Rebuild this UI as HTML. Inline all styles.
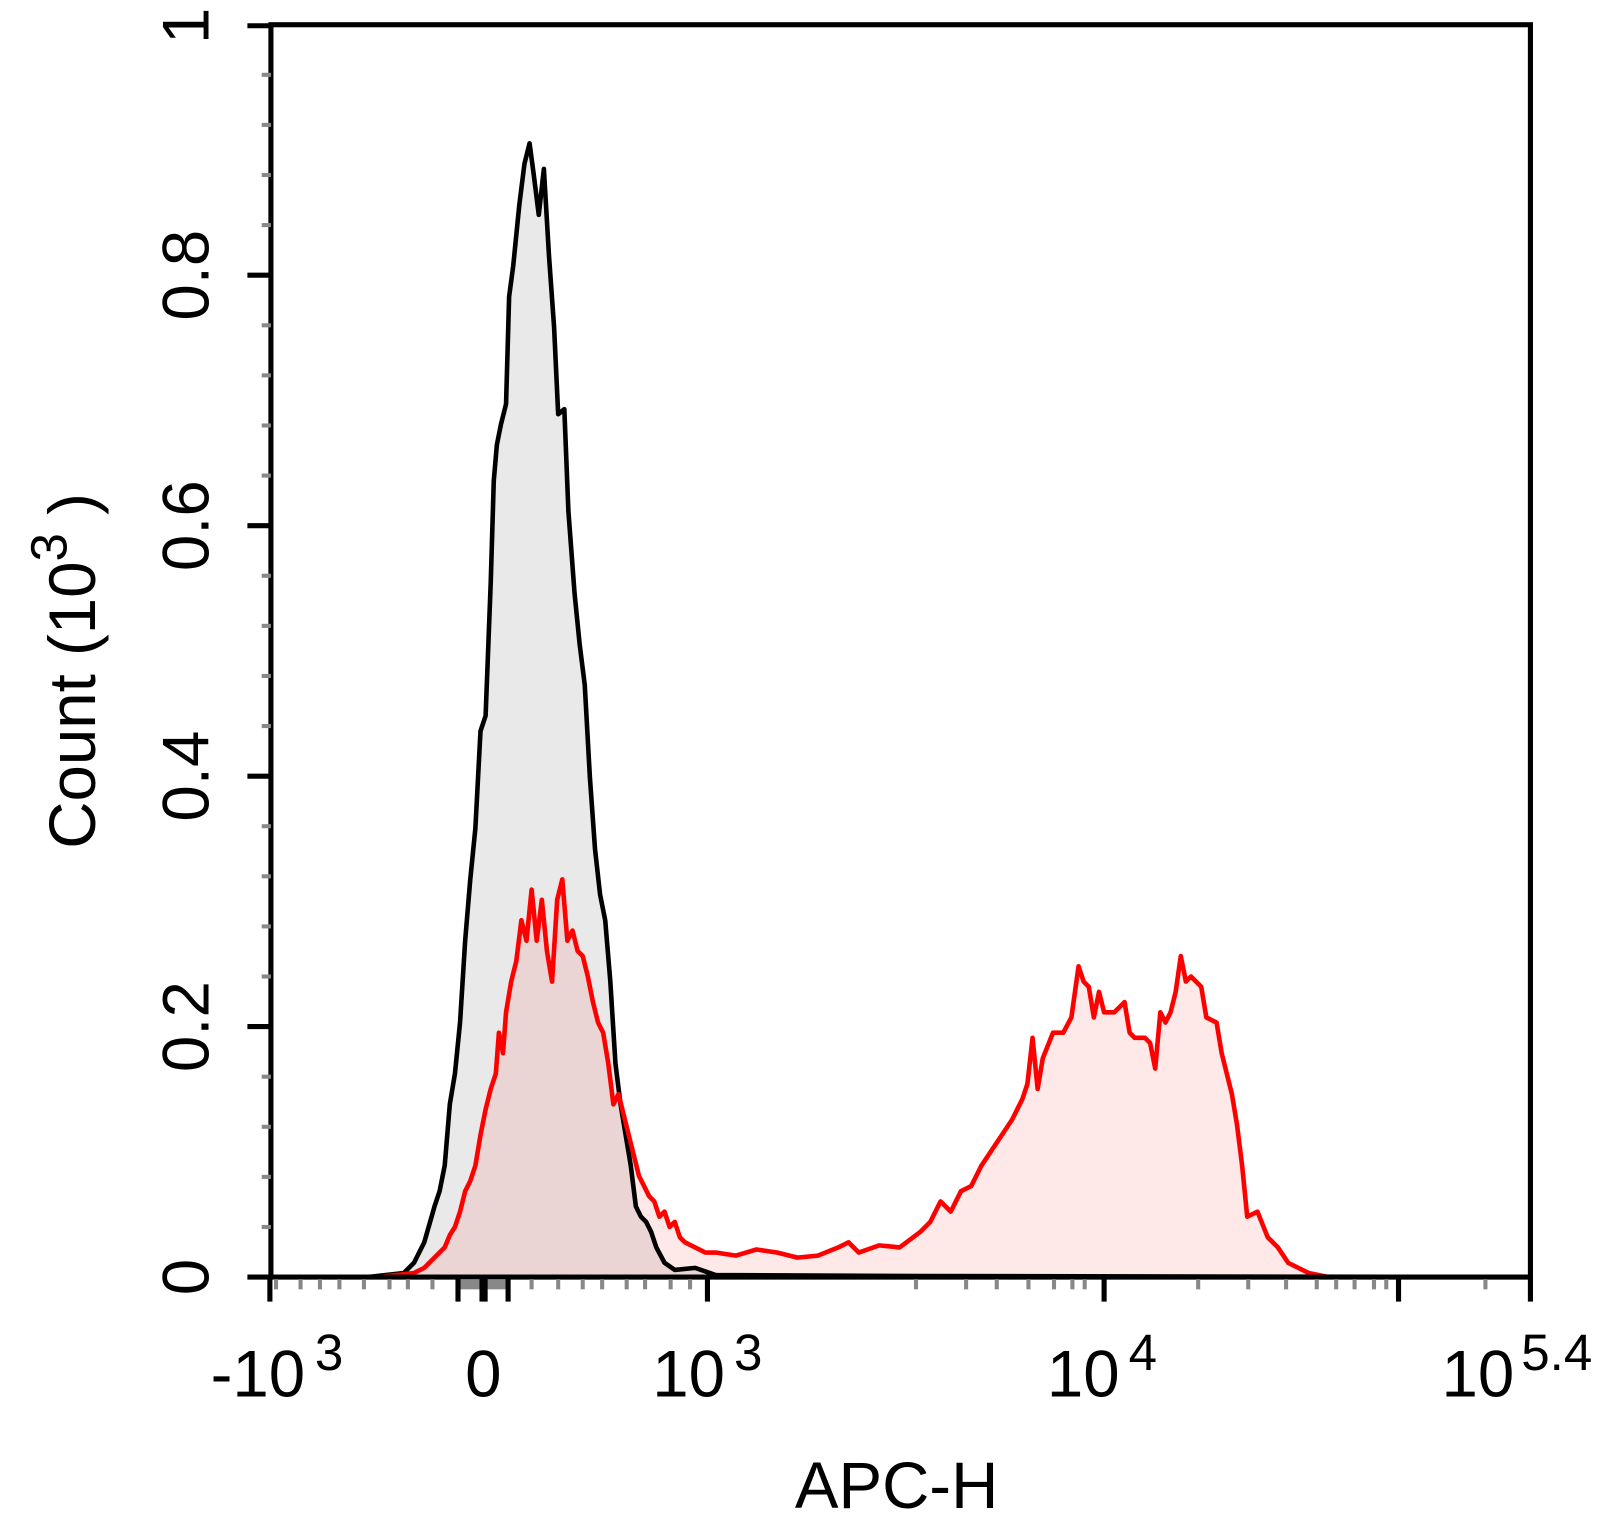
<!DOCTYPE html>
<html><head><meta charset="utf-8"><style>
html,body{margin:0;padding:0;background:#fff;}
svg{display:block;}
text{font-family:"Liberation Sans",Arial,sans-serif;fill:#000;}
</style></head><body>
<svg width="1603" height="1540" viewBox="0 0 1568 1506" xmlns="http://www.w3.org/2000/svg">
<path fill="#e9e9e9" d="M360,1249 L395,1245 405,1235 415,1215 425,1180 430,1165 435,1140 440,1080 445,1050 450,1000 455,920 460,860 465,810 470,715 475,700 480,570 483,470 486,435 490,415 495,395 498,290 502,260 508,200 513,160 518,140 522,170 527,210 532,165 537,250 542,320 546,405 552,400 556,500 562,580 567,630 572,670 577,760 582,830 587,875 592,900 597,960 602,1040 607,1080 612,1110 617,1140 622,1180 627,1190 632,1195 637,1205 642,1220 650,1235 660,1242 680,1240 700,1247 900,1248 1497,1249 Z"/>
<path fill="rgba(240,0,0,0.09)" d="M370,1249 L405,1245 415,1240 425,1230 435,1220 440,1208 445,1200 450,1185 455,1165 460,1155 465,1140 470,1110 475,1085 480,1065 485,1050 488,1010 492,1030 495,990 500,960 505,940 510,900 515,920 520,870 525,920 530,880 535,930 540,960 545,880 550,860 555,920 560,910 565,930 570,935 575,955 580,980 585,1000 590,1010 595,1040 600,1080 605,1070 610,1090 615,1110 620,1130 625,1150 630,1160 635,1170 640,1175 645,1190 650,1185 655,1200 660,1195 665,1210 670,1215 680,1220 690,1225 700,1225 720,1228 740,1222 760,1225 780,1230 800,1228 820,1220 830,1215 840,1225 860,1218 880,1220 900,1205 910,1195 920,1175 930,1185 940,1165 950,1160 960,1140 970,1125 980,1110 990,1095 1000,1075 1005,1060 1010,1015 1015,1065 1020,1035 1030,1010 1040,1010 1048,995 1055,945 1060,960 1065,965 1070,995 1075,970 1080,990 1090,990 1100,980 1105,1010 1110,1015 1120,1015 1125,1020 1130,1045 1135,990 1140,1000 1145,990 1150,970 1155,935 1160,960 1165,955 1175,965 1180,995 1190,1000 1195,1030 1205,1070 1210,1100 1215,1140 1220,1190 1230,1185 1240,1210 1250,1220 1260,1235 1270,1240 1280,1245 1300,1249 Z"/>
<polyline fill="none" stroke="#000" stroke-width="4.5" stroke-linejoin="round" points="360,1249 395,1245 405,1235 415,1215 425,1180 430,1165 435,1140 440,1080 445,1050 450,1000 455,920 460,860 465,810 470,715 475,700 480,570 483,470 486,435 490,415 495,395 498,290 502,260 508,200 513,160 518,140 522,170 527,210 532,165 537,250 542,320 546,405 552,400 556,500 562,580 567,630 572,670 577,760 582,830 587,875 592,900 597,960 602,1040 607,1080 612,1110 617,1140 622,1180 627,1190 632,1195 637,1205 642,1220 650,1235 660,1242 680,1240 700,1247 900,1248 1497,1249"/>
<polyline fill="none" stroke="#f00" stroke-width="4.5" stroke-linejoin="round" points="370,1249 405,1245 415,1240 425,1230 435,1220 440,1208 445,1200 450,1185 455,1165 460,1155 465,1140 470,1110 475,1085 480,1065 485,1050 488,1010 492,1030 495,990 500,960 505,940 510,900 515,920 520,870 525,920 530,880 535,930 540,960 545,880 550,860 555,920 560,910 565,930 570,935 575,955 580,980 585,1000 590,1010 595,1040 600,1080 605,1070 610,1090 615,1110 620,1130 625,1150 630,1160 635,1170 640,1175 645,1190 650,1185 655,1200 660,1195 665,1210 670,1215 680,1220 690,1225 700,1225 720,1228 740,1222 760,1225 780,1230 800,1228 820,1220 830,1215 840,1225 860,1218 880,1220 900,1205 910,1195 920,1175 930,1185 940,1165 950,1160 960,1140 970,1125 980,1110 990,1095 1000,1075 1005,1060 1010,1015 1015,1065 1020,1035 1030,1010 1040,1010 1048,995 1055,945 1060,960 1065,965 1070,995 1075,970 1080,990 1090,990 1100,980 1105,1010 1110,1015 1120,1015 1125,1020 1130,1045 1135,990 1140,1000 1145,990 1150,970 1155,935 1160,960 1165,955 1175,965 1180,995 1190,1000 1195,1030 1205,1070 1210,1100 1215,1140 1220,1190 1230,1185 1240,1210 1250,1220 1260,1235 1270,1240 1280,1245 1300,1249"/>
<rect x="265" y="24" width="1232" height="1225" fill="none" stroke="#000" stroke-width="5"/>
<g stroke="#000" stroke-width="5">
<line x1="242" y1="1249" x2="265" y2="1249"/><line x1="242" y1="1004" x2="265" y2="1004"/><line x1="242" y1="759" x2="265" y2="759"/><line x1="242" y1="514" x2="265" y2="514"/><line x1="242" y1="269" x2="265" y2="269"/><line x1="242" y1="25" x2="265" y2="25"/>
</g>
<g stroke="#888" stroke-width="4">
<line x1="256" y1="1200" x2="265" y2="1200"/><line x1="256" y1="1151" x2="265" y2="1151"/><line x1="256" y1="1102" x2="265" y2="1102"/><line x1="256" y1="1053" x2="265" y2="1053"/>
<line x1="256" y1="955" x2="265" y2="955"/><line x1="256" y1="906" x2="265" y2="906"/><line x1="256" y1="857" x2="265" y2="857"/><line x1="256" y1="808" x2="265" y2="808"/>
<line x1="256" y1="710" x2="265" y2="710"/><line x1="256" y1="661" x2="265" y2="661"/><line x1="256" y1="612" x2="265" y2="612"/><line x1="256" y1="563" x2="265" y2="563"/>
<line x1="256" y1="465" x2="265" y2="465"/><line x1="256" y1="416" x2="265" y2="416"/><line x1="256" y1="367" x2="265" y2="367"/><line x1="256" y1="318" x2="265" y2="318"/>
<line x1="256" y1="220" x2="265" y2="220"/><line x1="256" y1="171" x2="265" y2="171"/><line x1="256" y1="122" x2="265" y2="122"/><line x1="256" y1="73" x2="265" y2="73"/>
</g>
<g stroke="#888" stroke-width="4">
<line x1="270" y1="1251" x2="270" y2="1261"/><line x1="294" y1="1251" x2="294" y2="1261"/><line x1="313" y1="1251" x2="313" y2="1261"/><line x1="332" y1="1251" x2="332" y2="1261"/><line x1="356" y1="1251" x2="356" y2="1261"/><line x1="381" y1="1251" x2="381" y2="1261"/><line x1="399" y1="1251" x2="399" y2="1261"/><line x1="423" y1="1251" x2="423" y2="1261"/>
<rect x="450" y="1251" width="46" height="10" fill="#888" stroke="none"/>
<line x1="520" y1="1251" x2="520" y2="1261"/><line x1="546" y1="1251" x2="546" y2="1261"/><line x1="570" y1="1251" x2="570" y2="1261"/><line x1="589" y1="1251" x2="589" y2="1261"/><line x1="613" y1="1251" x2="613" y2="1261"/><line x1="631" y1="1251" x2="631" y2="1261"/><line x1="656" y1="1251" x2="656" y2="1261"/><line x1="675" y1="1251" x2="675" y2="1261"/>
<line x1="896" y1="1251" x2="896" y2="1261"/><line x1="945" y1="1251" x2="945" y2="1261"/><line x1="975" y1="1251" x2="975" y2="1261"/><line x1="1006" y1="1251" x2="1006" y2="1261"/><line x1="1031" y1="1251" x2="1031" y2="1261"/><line x1="1049" y1="1251" x2="1049" y2="1261"/><line x1="1061" y1="1251" x2="1061" y2="1261"/>
<line x1="1172" y1="1251" x2="1172" y2="1261"/><line x1="1221" y1="1251" x2="1221" y2="1261"/><line x1="1258" y1="1251" x2="1258" y2="1261"/><line x1="1288" y1="1251" x2="1288" y2="1261"/><line x1="1307" y1="1251" x2="1307" y2="1261"/><line x1="1325" y1="1251" x2="1325" y2="1261"/><line x1="1344" y1="1251" x2="1344" y2="1261"/><line x1="1356" y1="1251" x2="1356" y2="1261"/><line x1="1453" y1="1251" x2="1453" y2="1261"/>
</g>
<g stroke="#000" stroke-width="5">
<line x1="264" y1="1249" x2="264" y2="1273"/><line x1="448" y1="1249" x2="448" y2="1273"/><line x1="473" y1="1249" x2="473" y2="1273" stroke-width="8"/><line x1="497" y1="1249" x2="497" y2="1273"/><line x1="692" y1="1249" x2="692" y2="1273"/><line x1="1080" y1="1249" x2="1080" y2="1273"/><line x1="1368" y1="1249" x2="1368" y2="1273"/><line x1="1497" y1="1249" x2="1497" y2="1273"/>
</g>
<g font-size="64">
<text x="206" y="1366">-10</text><text x="308" y="1340" font-size="50">3</text>
<text x="455" y="1366">0</text>
<text x="638" y="1366">10</text><text x="718" y="1340" font-size="50">3</text>
<text x="1024" y="1366">10</text><text x="1104" y="1340" font-size="50">4</text>
<text x="1410" y="1366">10</text><text x="1488" y="1340" font-size="50">5.4</text>
<text x="877" y="1475" text-anchor="middle">APC-H</text>
</g>
<g font-size="64" text-anchor="middle">
<text transform="translate(204,1249) rotate(-90)">0</text>
<text transform="translate(204,1004) rotate(-90)">0.2</text>
<text transform="translate(204,759) rotate(-90)">0.4</text>
<text transform="translate(204,514) rotate(-90)">0.6</text>
<text transform="translate(204,269) rotate(-90)">0.8</text>
<text transform="translate(204,25) rotate(-90)">1</text>
</g>
<text transform="translate(93,830) rotate(-90)" font-size="64">Count  (10<tspan font-size="50" dy="-28">3</tspan><tspan dy="28"> )</tspan></text>
</svg>
</body></html>
